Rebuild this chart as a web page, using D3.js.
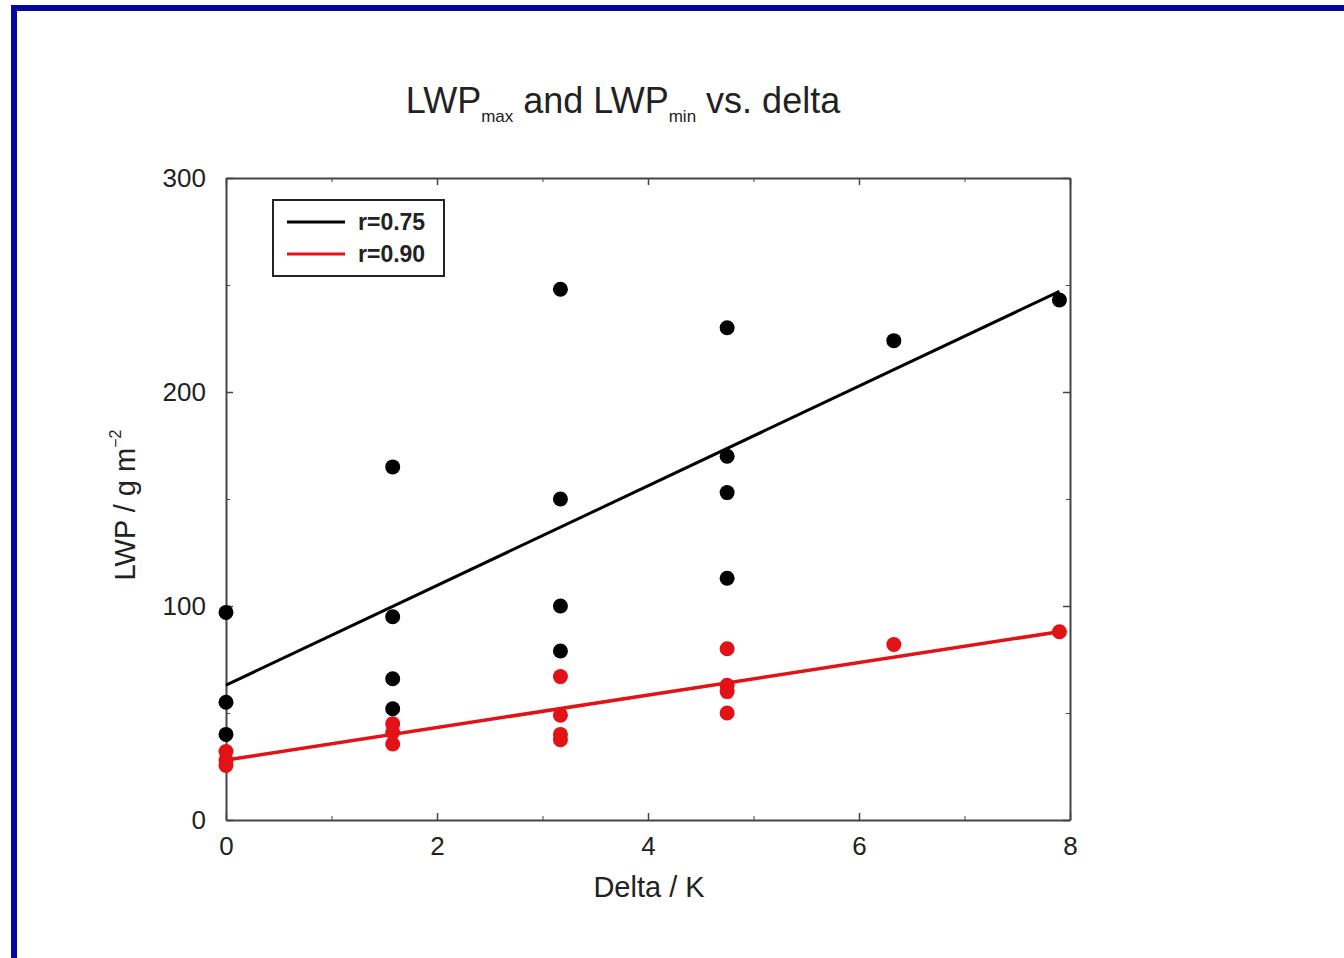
<!DOCTYPE html>
<html>
<head>
  <meta charset="utf-8">
  <title>LWP vs delta</title>
  <style>
    body { margin: 0; background: #fff; }
    text { font-family: "Liberation Sans", Arial, sans-serif; fill: #222; }
    .axis path, .axis line { stroke: #444; }
  </style>
</head>
<body>
<script src="https://d3js.org/d3.v7.min.js"></script>
<script>
// ---- data ----
var maxX = [0, 0, 0, 1.58, 1.58, 1.58, 1.58, 3.17, 3.17, 3.17, 3.17, 4.75, 4.75, 4.75, 4.75, 6.33, 7.9];
var maxY = [97, 55, 40, 165, 95, 66, 52, 248, 150, 100, 79, 230, 170, 153, 113, 224, 243];

var minX = [0, 0, 0, 1.58, 1.58, 1.58, 3.17, 3.17, 3.17, 3.17, 4.75, 4.75, 4.75, 4.75, 6.33, 7.9];
var minY = [32, 28, 25.5, 45, 41, 35.5, 67, 49, 40, 37.5, 80, 63, 60, 50, 82, 88];

// regression lines: [x, y] at both ends
var fitMax = [[0, 63], [7.9, 247]];
var fitMin = [[0, 28], [7.9, 88]];

var legendLabels = ["r=0.75", "r=0.90"];
var seriesColors = ["#000000", "#e31217"];

var xTicks = [0, 2, 4, 6, 8];
var xMinor = [1, 3, 5, 7];
var yTicks = [0, 100, 200, 300];
var yMinor = [50, 150, 250];

/*********************************
 * Setup
 *********************************/
var W = 1344, H = 958;
var svg = d3.select("body").append("svg")
    .attr("width", W)
    .attr("height", H);

// blue page frame
svg.append("rect")
    .attr("x", 14).attr("y", 8)
    .attr("width", W).attr("height", H)
    .attr("fill", "none")
    .attr("stroke", "#0606a0")
    .attr("stroke-width", 6);

var pLeft = 226, pRight = 1070, pTop = 178, pBottom = 820;

var xScale = d3.scaleLinear().domain([0, 8]).range([pLeft, pRight]);
var yScale = d3.scaleLinear().domain([0, 300]).range([pBottom, pTop]);

/*********************************
 * Axes (ticks pointing inward on all four sides)
 *********************************/
function styleAxis(g) {
    g.select(".domain").attr("stroke-width", 2);
    g.selectAll(".tick line").attr("stroke-width", 1.5);
}

var xBottom = svg.append("g").attr("class", "axis")
    .attr("transform", "translate(0," + pBottom + ")")
    .call(d3.axisBottom(xScale).tickValues(xTicks).tickSizeInner(-7).tickSizeOuter(0).tickPadding(17));
xBottom.selectAll(".tick text").attr("font-size", 26).attr("dy", "0.71em");
styleAxis(xBottom);

svg.append("g").attr("class", "axis")
    .attr("transform", "translate(0," + pBottom + ")")
    .call(d3.axisBottom(xScale).tickValues(xMinor).tickSize(-4).tickFormat(""))
    .select(".domain").remove();

var xTop = svg.append("g").attr("class", "axis")
    .attr("transform", "translate(0," + pTop + ")")
    .call(d3.axisTop(xScale).tickValues(xTicks).tickSizeInner(-7).tickSizeOuter(0).tickFormat(""));
styleAxis(xTop);
svg.append("g").attr("class", "axis")
    .attr("transform", "translate(0," + pTop + ")")
    .call(d3.axisTop(xScale).tickValues(xMinor).tickSize(-4).tickFormat(""))
    .select(".domain").remove();

var yLeft = svg.append("g").attr("class", "axis")
    .attr("transform", "translate(" + pLeft + ",0)")
    .call(d3.axisLeft(yScale).tickValues(yTicks).tickSizeInner(-7).tickSizeOuter(0).tickPadding(20));
yLeft.selectAll(".tick text").attr("font-size", 26);
styleAxis(yLeft);
svg.append("g").attr("class", "axis")
    .attr("transform", "translate(" + pLeft + ",0)")
    .call(d3.axisLeft(yScale).tickValues(yMinor).tickSize(-4).tickFormat(""))
    .select(".domain").remove();

var yRight = svg.append("g").attr("class", "axis")
    .attr("transform", "translate(" + pRight + ",0)")
    .call(d3.axisRight(yScale).tickValues(yTicks).tickSizeInner(-7).tickSizeOuter(0).tickFormat(""));
styleAxis(yRight);
svg.append("g").attr("class", "axis")
    .attr("transform", "translate(" + pRight + ",0)")
    .call(d3.axisRight(yScale).tickValues(yMinor).tickSize(-4).tickFormat(""))
    .select(".domain").remove();

/*********************************
 * Lines and points
 *********************************/
var line = d3.line()
    .x(function(d) { return xScale(d[0]); })
    .y(function(d) { return yScale(d[1]); });

svg.append("path").datum(fitMax)
    .attr("d", line)
    .attr("fill", "none")
    .attr("stroke", seriesColors[0])
    .attr("stroke-width", 3);

svg.append("path").datum(fitMin)
    .attr("d", line)
    .attr("fill", "none")
    .attr("stroke", seriesColors[1])
    .attr("stroke-width", 3.5);

svg.append("g").selectAll("circle")
    .data(d3.zip(minX, minY))
    .enter().append("circle")
    .attr("cx", function(d) { return xScale(d[0]); })
    .attr("cy", function(d) { return yScale(d[1]); })
    .attr("r", 7.5)
    .attr("fill", seriesColors[1]);

svg.append("g").selectAll("circle")
    .data(d3.zip(maxX, maxY))
    .enter().append("circle")
    .attr("cx", function(d) { return xScale(d[0]); })
    .attr("cy", function(d) { return yScale(d[1]); })
    .attr("r", 7.5)
    .attr("fill", seriesColors[0]);

/*********************************
 * Legend
 *********************************/
var legend = svg.append("g").attr("transform", "translate(273,200)");
legend.append("rect")
    .attr("width", 171).attr("height", 76)
    .attr("fill", "#fff")
    .attr("stroke", "#222")
    .attr("stroke-width", 2);

legendLabels.forEach(function(lab, i) {
    var y = 22 + i * 32;
    legend.append("line")
        .attr("x1", 14).attr("x2", 72)
        .attr("y1", y).attr("y2", y)
        .attr("stroke", seriesColors[i])
        .attr("stroke-width", 3);
    legend.append("text")
        .attr("x", 85).attr("y", y)
        .attr("dy", "0.36em")
        .attr("font-size", 23)
        .attr("font-weight", "bold")
        .text(lab);
});

/*********************************
 * Titles
 *********************************/
var title = svg.append("text")
    .attr("x", 623).attr("y", 113)
    .attr("text-anchor", "middle")
    .attr("font-size", 36);
title.append("tspan").text("LWP");
title.append("tspan").attr("font-size", 17).attr("dy", 9).text("max");
title.append("tspan").attr("dy", -9).text(" and LWP");
title.append("tspan").attr("font-size", 17).attr("dy", 9).text("min");
title.append("tspan").attr("dy", -9).text(" vs. delta");

svg.append("text")
    .attr("x", (pLeft + pRight) / 2 + 1).attr("y", 897)
    .attr("text-anchor", "middle")
    .attr("font-size", 29)
    .text("Delta / K");

var ylab = svg.append("text")
    .attr("transform", "translate(135,505) rotate(-90)")
    .attr("text-anchor", "middle")
    .attr("font-size", 29);
ylab.append("tspan").text("LWP / g m");
ylab.append("tspan").attr("font-size", 16).attr("dy", -14).text("−2");
</script>
</body>
</html>
